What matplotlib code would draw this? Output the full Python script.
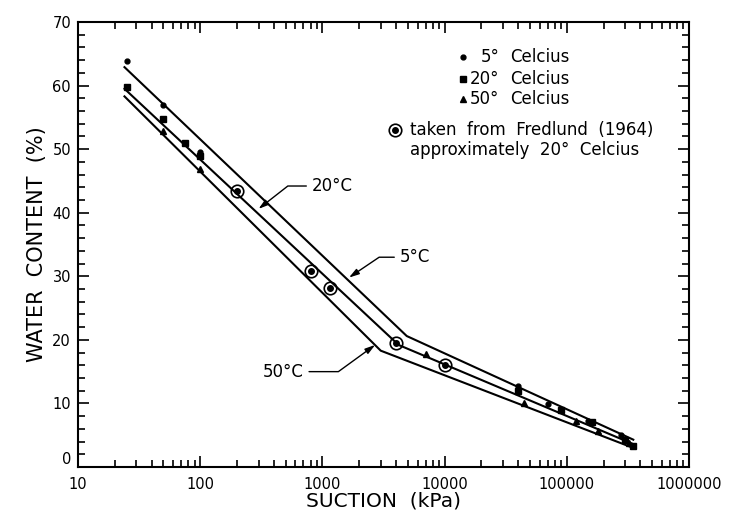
import numpy as np
import matplotlib.pyplot as plt

# measured points (suction kPa, water content %)
s5 = [25, 50, 100, 40000, 70000, 150000, 280000]
w5 = [63.8, 57.0, 49.6, 12.8, 9.9, 7.3, 5.0]
s20 = [25, 50, 75, 100, 40000, 90000, 160000, 300000, 350000]
w20 = [59.8, 54.7, 51.0, 49.0, 11.9, 8.9, 7.0, 4.3, 3.3]
s50 = [50, 100, 7000, 45000, 120000, 180000, 320000]
w50 = [52.8, 46.8, 17.8, 10.1, 7.2, 5.6, 3.8]

# Fredlund (1964) points
s_fr = [200, 800, 1150, 4000, 10000]
w_fr = [43.4, 30.8, 28.1, 19.5, 16.1]

# fitted bilinear lines
line5_s = [24, 4900, 350000]
line5_w = [62.9, 20.6, 4.3]
line20_s = [24, 4200, 350000]
line20_w = [59.5, 19.2, 3.6]
line50_s = [24, 3000, 350000]
line50_w = [58.3, 18.3, 3.0]

fig = plt.figure(figsize=(7.34, 5.19), dpi=100)
ax = fig.add_axes([0.1063, 0.1002, 0.8324, 0.8574])

for xs, ys in [(line5_s, line5_w), (line20_s, line20_w), (line50_s, line50_w)]:
    ax.plot(xs, ys, color='black', lw=1.5)

ax.plot(s5, w5, 'o', color='black', ms=3.5)
ax.plot(s20, w20, 's', color='black', ms=4.5)
ax.plot(s50, w50, '^', color='black', ms=4.5)
ax.plot(s_fr, w_fr, 'o', mfc='none', mec='black', mew=1.2, ms=9)
ax.plot(s_fr, w_fr, 'o', color='black', ms=4)

ax.set_xscale('log')
ax.set_xlim(10, 1000000)
ax.set_ylim(0, 70)
ax.set_xticks([10, 100, 1000, 10000, 100000, 1000000])
ax.set_xticklabels(['10', '100', '1000', '10000', '100000', '1000000'])
ax.set_yticks(np.arange(0, 71, 10))
ax.set_yticks(np.arange(0, 71, 2), minor=True)
ax.tick_params(which='both', direction='in', top=True, right=True,
               labelsize=10.5, width=1.2)
ax.tick_params(which='major', length=8)
ax.tick_params(which='minor', length=5)
ax.tick_params(axis='x', pad=7)
ax.tick_params(axis='y', pad=5)
ax.get_yticklabels()[0].set_va('bottom')
for sp in ax.spines.values():
    sp.set_linewidth(1.5)

ax.set_xlabel('SUCTION  (kPa)', fontsize=14.5, labelpad=0)
ax.set_ylabel('WATER  CONTENT  (%)', fontsize=15, labelpad=4)

# curve labels
arrow = dict(arrowstyle='-|>,head_length=0.5,head_width=0.15', color='black',
             lw=1.0, shrinkA=2, shrinkB=0)
ax.annotate('20°C', xy=(300, 40.6), xytext=(820, 44.2), fontsize=12,
            ha='left', va='center',
            arrowprops=dict(arrow, relpos=(0, 0.5),
                            connectionstyle='angle,angleA=180,angleB=38,rad=0'))
ax.annotate('5°C', xy=(1650, 29.8), xytext=(4300, 33.0), fontsize=12,
            ha='left', va='center',
            arrowprops=dict(arrow, relpos=(0, 0.5),
                            connectionstyle='angle,angleA=180,angleB=34,rad=0'))
ax.annotate('50°C', xy=(2700, 19.2), xytext=(700, 15.0), fontsize=12,
            ha='right', va='center',
            arrowprops=dict(arrow, relpos=(1, 0.5),
                            connectionstyle='angle,angleA=0,angleB=36,rad=0'))

# key
tr = ax.transAxes
ax.plot([0.630], [0.921], 'o', color='black', ms=3.5, transform=tr)
ax.plot([0.630], [0.873], 's', color='black', ms=4.5, transform=tr)
ax.plot([0.630], [0.826], '^', color='black', ms=4.5, transform=tr)
for y, t in [(0.921, '5°'), (0.873, '20°'), (0.826, '50°')]:
    ax.text(0.690, y, t, transform=tr, fontsize=12, ha='right', va='center')
    ax.text(0.707, y, 'Celcius', transform=tr, fontsize=12, ha='left', va='center')
ax.plot([0.518], [0.757], 'o', mfc='none', mec='black', mew=1.2, ms=9, transform=tr)
ax.plot([0.518], [0.757], 'o', color='black', ms=4, transform=tr)
ax.text(0.543, 0.757, 'taken  from  Fredlund  (1964)', transform=tr,
        fontsize=12, ha='left', va='center')
ax.text(0.543, 0.712, 'approximately  20°  Celcius', transform=tr,
        fontsize=12, ha='left', va='center')

fig.savefig('out.png', dpi=100)
